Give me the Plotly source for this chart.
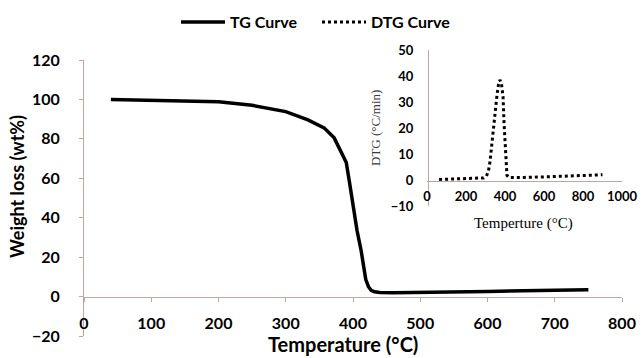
import plotly.graph_objects as go

# TG curve (main axes)
tg_temp = [40, 100, 150, 200, 250, 300, 333, 357, 372, 382, 390, 395, 401, 406, 412, 419, 423, 427, 432, 440, 460, 500, 600, 700, 750]
tg_weight = [100, 99.7, 99.3, 98.8, 97.0, 93.8, 89.6, 85.6, 80.5, 73.0, 68.0, 57.5, 43.5, 33.5, 23.5, 8.6, 5.0, 3.2, 2.4, 2.1, 2.0, 2.1, 2.6, 3.2, 3.5]

# DTG curve (inset axes)
dtg_temp = [62, 100, 150, 200, 250, 290, 305, 315, 323, 330, 338, 348, 358, 366, 374, 382, 390, 395, 400, 405, 410, 420, 450, 500, 600, 700, 800, 900]
dtg_rate = [0.2, 0.3, 0.3, 0.4, 0.5, 0.8, 1.5, 3.5, 7, 12, 19.6, 27, 32, 36.5, 38.5, 37, 32, 22, 13, 6, 1.8, 1.0, 0.9, 1.0, 1.2, 1.4, 1.7, 2.0]

main_xticks = [0, 100, 200, 300, 400, 500, 600, 700, 800]
main_yticks = [-20, 0, 20, 40, 60, 80, 100, 120]
inset_xticks = [0, 200, 400, 600, 800, 1000]
inset_yticks = [-10, 0, 10, 20, 30, 40, 50]

AX = "#c4a3a3"
SANS = "Lato, Carlito, Arial, sans-serif"
SERIF = "Liberation Serif, DejaVu Serif, serif"

fig = go.Figure()
fig.add_trace(go.Scatter(x=tg_temp, y=tg_weight, mode="lines", name="TG Curve",
                         line=dict(color="black", width=3.5), xaxis="x", yaxis="y"))
fig.add_trace(go.Scatter(x=dtg_temp, y=dtg_rate, mode="lines", name="DTG Curve",
                         line=dict(color="black", width=3, dash="dot"), xaxis="x2", yaxis="y2"))

W, H = 642, 358
L, R, T, B = 84, 20, 6, 22
pw, ph = W - L - R, H - T - B

def px(x):
    return (x - L) / pw

def py(y):
    return (H - B - y) / ph

fig.update_layout(
    width=W, height=H,
    margin=dict(l=L, r=R, t=T, b=B, autoexpand=False),
    paper_bgcolor="white", plot_bgcolor="white",
    font=dict(family=SANS, color="black"),
    showlegend=True,
    legend=dict(orientation="h", x=px(176), xanchor="left", y=py(22), yanchor="middle",
                font=dict(family=SANS, size=16, weight="bold"), bgcolor="rgba(0,0,0,0)",
                itemwidth=44, tracegroupgap=0, entrywidth=82, entrywidthmode="pixels"),
    xaxis=dict(domain=[0, 1], range=[0, 800], tickvals=main_xticks, anchor="free",
               position=py(297), showline=True, linecolor=AX, linewidth=1,
               ticks="outside", ticklen=4, tickcolor=AX, showgrid=False, zeroline=False,
               ticklabelstandoff=8, tickfont=dict(family=SANS, size=16, weight="bold")),
    yaxis=dict(domain=[0, py(60)], range=[-20, 120], tickvals=main_yticks, anchor="x",
               showline=True, linecolor=AX, linewidth=1, ticks="outside", ticklen=4,
               tickcolor=AX, showgrid=False, zeroline=False, ticklabelstandoff=16,
               tickfont=dict(family=SANS, size=16, weight="bold")),
    xaxis2=dict(domain=[px(427), px(622)], range=[0, 1000], tickvals=inset_xticks,
                anchor="free", position=py(181), showline=True, linecolor=AX, linewidth=1,
                ticks="", showgrid=False, zeroline=False, ticklabelstandoff=3,
                tickfont=dict(family=SANS, size=13, weight="bold")),
    yaxis2=dict(domain=[py(206), py(50)], range=[-10, 50], tickvals=inset_yticks,
                anchor="free", position=px(428), showline=True, linecolor=AX, linewidth=1,
                ticks="", showgrid=False, zeroline=False, ticklabelstandoff=12,
                tickfont=dict(family=SANS, size=13, weight="bold")),
    annotations=[
        dict(text="Weight loss (wt%)", x=px(17), y=py(187), xref="paper", yref="paper",
             textangle=-90, showarrow=False, xanchor="center", yanchor="middle",
             font=dict(family=SANS, size=18, weight="bold")),
        dict(text="Temperature (°C)", x=px(343), y=py(344), xref="paper", yref="paper",
             showarrow=False, xanchor="center", yanchor="middle",
             font=dict(family=SANS, size=20, weight="bold")),
        dict(text="Temperture (°C)", x=px(523), y=py(223), xref="paper", yref="paper",
             showarrow=False, xanchor="center", yanchor="middle",
             font=dict(family=SERIF, size=15)),
        dict(text="DTG (°C/min)", x=px(375), y=py(128), xref="paper", yref="paper",
             textangle=-90, showarrow=False, xanchor="center", yanchor="middle",
             font=dict(family=SERIF, size=13, color="#3a3a3a")),
    ],
)

fig.write_html("out.html", config={"displayModeBar": False},
               post_script="document.body.style.margin='0';document.body.style.overflow='hidden';")
